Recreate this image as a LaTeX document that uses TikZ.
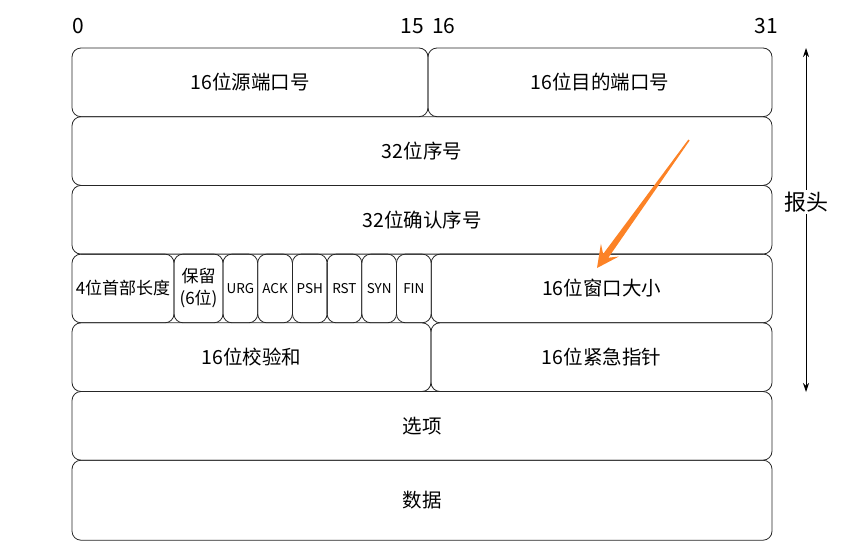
\documentclass[tikz,border=0pt]{standalone}
\usepackage{fontspec}
\setmainfont{Noto Sans CJK SC}
\usetikzlibrary{positioning, arrows.meta, calc}
\definecolor{hintorange}{RGB}{252,130,38}

\begin{document}
\begin{tikzpicture}[x=1pt, y=-1pt,
  field/.style={draw=black!85, line width=0.8pt, rounded corners=9pt, minimum height=68.7pt, inner sep=0pt, outer sep=0pt, anchor=north west, font=\fontsize{19.5}{22}\selectfont},
  flag/.style={field, minimum width=34.7pt, font=\fontsize{13.5}{15}\selectfont},
  bitno/.style={inner sep=0pt, font=\fontsize{21}{24}\selectfont}]
\useasboundingbox (0,0) rectangle (848,557);

% bit positions
\node[bitno] (bit0) at (78,26) {0};
\node[bitno, anchor=east] (bit15) at (424,26) {15};
\node[bitno, anchor=west] (bit16) at (432,26) {16};
\node[bitno] (bit31) at (766,26) {31};

% ports
\node[field, minimum width=356pt] (srcport) at (72,48) {16位源端口号};
\node[field, minimum width=344pt, right=0pt of srcport] (dstport) {16位目的端口号};

% sequence numbers
\node[field, minimum width=700pt] (seqno) at (72,116.7) {32位序号};
\node[field, minimum width=700pt] (ackno) at (72,185.4) {32位确认序号};

% header length, reserved, flags, window
\node[field, minimum width=102pt, font=\fontsize{17}{20}\selectfont] (hdrlen) at (72,254.1) {4位首部长度};
\node[field, minimum width=49pt, align=center, font=\fontsize{17}{22}\selectfont, right=0pt of hdrlen] (rsv) {保留\\(6位)};
\node[flag, right=0pt of rsv] (urg) {URG};
\node[flag, right=0pt of urg] (ack) {ACK};
\node[flag, right=0pt of ack] (psh) {PSH};
\node[flag, right=0pt of psh] (rst) {RST};
\node[flag, right=0pt of rst] (syn) {SYN};
\node[flag, right=0pt of syn] (fin) {FIN};
\node[field, minimum width=341pt, right=0pt of fin] (win) {16位窗口大小};

% checksum, urgent pointer
\node[field, minimum width=359pt] (cksum) at (72,322.8) {16位校验和};
\node[field, minimum width=341pt, right=0pt of cksum] (urgptr) {16位紧急指针};

% options, data
\node[field, minimum width=700pt] (opts) at (72,391.5) {选项};
\node[field, minimum width=700pt, minimum height=80pt] (data) at (72,460.2) {数据};

% header span
\coordinate (htop) at (806,48);
\coordinate (hbot) at (806,392);
\node[fill=white, inner sep=2pt, font=\fontsize{22}{25}\selectfont] (hdr) at (806,202) {报头};
\draw[line width=0.8pt, -{Stealth[length=9pt, width=6pt]}] (hdr) -- (htop);
\draw[line width=0.8pt, -{Stealth[length=9pt, width=6pt]}] (hdr) -- (hbot);

% pointer to window field (tapered)
\coordinate (otail) at (689,140);
\coordinate (otip) at (597,268);
\coordinate (oneck) at ($(otip)!15pt!(otail)$);
\coordinate (obase) at ($(otip)!22pt!(otail)$);
\fill[hintorange] ($(otail)!0.8pt!90:(otip)$) -- ($(oneck)!3.2pt!-90:(otail)$)
  -- ($(obase)!11pt!-90:(otail)$) -- (otip) -- ($(obase)!11pt!90:(otail)$)
  -- ($(oneck)!3.2pt!90:(otail)$) -- ($(otail)!0.8pt!-90:(otip)$) -- cycle;
\end{tikzpicture}
\end{document}
